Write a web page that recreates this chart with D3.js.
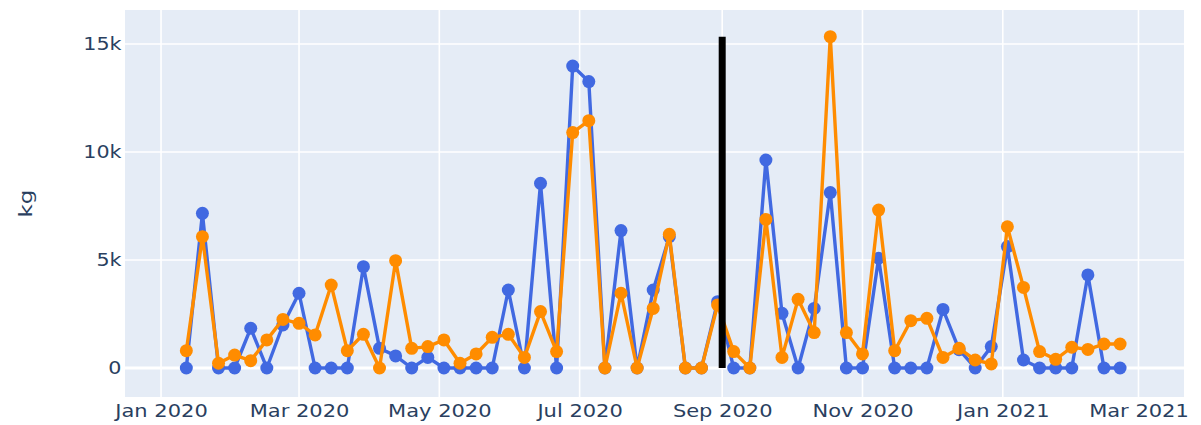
<!DOCTYPE html>
<html>
<head>
<meta charset="utf-8">
<script src="https://cdn.jsdelivr.net/npm/d3@7"></script>
<style>
    body { margin: 0; background: #fff; }
    text { font-family: "DejaVu Sans", Verdana, sans-serif; fill: #2a3f5f; }
</style>
</head>
<body>
<div id="chart"></div>
<script>

// Weekly dates (Sundays)
var weeks = [
    "2020-01-12", "2020-01-19", "2020-01-26", "2020-02-02", "2020-02-09", "2020-02-16", "2020-02-23",
    "2020-03-01", "2020-03-08", "2020-03-15", "2020-03-22", "2020-03-29", "2020-04-05", "2020-04-12",
    "2020-04-19", "2020-04-26", "2020-05-03", "2020-05-10", "2020-05-17", "2020-05-24", "2020-05-31",
    "2020-06-07", "2020-06-14", "2020-06-21", "2020-06-28", "2020-07-05", "2020-07-12", "2020-07-19",
    "2020-07-26", "2020-08-02", "2020-08-09", "2020-08-16", "2020-08-23", "2020-08-30", "2020-09-06",
    "2020-09-13", "2020-09-20", "2020-09-27", "2020-10-04", "2020-10-11", "2020-10-18", "2020-10-25",
    "2020-11-01", "2020-11-08", "2020-11-15", "2020-11-22", "2020-11-29", "2020-12-06", "2020-12-13",
    "2020-12-20", "2020-12-27", "2021-01-03", "2021-01-10", "2021-01-17", "2021-01-24", "2021-01-31",
    "2021-02-07", "2021-02-14", "2021-02-21"
];

// Blue series (kg)
var blueKg = [
    0, 7160, 0, 0, 1840, 0, 1990, 3460, 0, 0, 0, 4690, 910, 560, 0, 490, 0, 0, 0, 0,
    3610, 0, 8550, 0, 13980, 13260, 0, 6360, 0, 3610, 6080, 0, 0, 3070, 0, 0, 9630, 2530, 0, 2760,
    8120, 0, 0, 5080, 0, 0, 0, 2710, 850, 0, 990, 5620, 370, 0, 0, 0, 4310, 0, 0
];

// Orange series (kg)
var orangeKg = [
    800, 6080, 220, 600, 340, 1300, 2250, 2070, 1530, 3840, 800, 1560, 0, 4970, 910, 990, 1300, 220, 650, 1420,
    1560, 490, 2610, 760, 10900, 11450, 0, 3460, 0, 2760, 6190, 0, 0, 2920, 760, 0, 6880, 490, 3180, 1640,
    15340, 1640, 650, 7310, 800, 2190, 2300, 490, 910, 370, 190, 6540, 3730, 760, 400, 960, 860, 1110, 1110
];

// Vertical marker
var markerDate = "2020-09-01";

var yTicks = [0, 5000, 10000, 15000];

var svgWidth = 1201;
var svgHeight = 425;

var margin = { top: 10, bottom: 28, left: 125, right: 17 };
var width = svgWidth - margin.left - margin.right;
var height = svgHeight - margin.top - margin.bottom;

var parseDate = d3.utcParse("%Y-%m-%d");
var dates = weeks.map(parseDate);

var svg = d3.select("#chart")
    .append("svg")
    .attr("width", svgWidth)
    .attr("height", svgHeight);

// Scales
var xTime = d3.scaleUtc()
    .domain([new Date(Date.UTC(2019, 11, 16, 8)), new Date(Date.UTC(2021, 2, 20, 19))])
    .range([margin.left, margin.left + width]);

var yLinear = d3.scaleLinear()
    .domain([-1343, 16574])
    .range([margin.top + height, margin.top]);

// Plot background
svg.append("rect")
    .attr("x", margin.left)
    .attr("y", margin.top)
    .attr("width", width)
    .attr("height", height)
    .attr("fill", "#e5ecf6");

var xTickVals = xTime.ticks(d3.utcMonth.every(2));

// Gridlines
svg.append("g").selectAll("line")
    .data(xTickVals)
    .enter()
    .append("line")
    .attr("x1", d => xTime(d))
    .attr("x2", d => xTime(d))
    .attr("y1", margin.top)
    .attr("y2", margin.top + height)
    .attr("stroke", "#fff")
    .attr("stroke-width", 1.6);

svg.append("g").selectAll("line")
    .data(yTicks)
    .enter()
    .append("line")
    .attr("x1", margin.left)
    .attr("x2", margin.left + width)
    .attr("y1", d => yLinear(d))
    .attr("y2", d => yLinear(d))
    .attr("stroke", "#fff")
    .attr("stroke-width", d => d === 0 ? 3.2 : 1.6);

// Axes (labels only, font is wide in the original so stretch a bit)
var leftAxis = d3.axisLeft(yLinear)
    .tickValues(yTicks)
    .tickFormat(d => d === 0 ? "0" : (d / 1000) + "k")
    .tickSize(0)
    .tickPadding(3);

var yAxis = svg.append("g")
    .attr("transform", `translate(${margin.left}, 0)`)
    .call(leftAxis);

yAxis.select(".domain").remove();
yAxis.selectAll("text")
    .attr("font-size", "17.5px")
    .attr("fill", "#2a3f5f")
    .attr("transform", "scale(1.18, 1)");

var bottomAxis = d3.axisBottom(xTime)
    .tickValues(xTickVals)
    .tickFormat(d3.utcFormat("%b %Y"))
    .tickSize(0)
    .tickPadding(8);

var xAxis = svg.append("g")
    .attr("transform", `translate(0, ${margin.top + height})`)
    .call(bottomAxis);

xAxis.select(".domain").remove();
xAxis.selectAll("text")
    .attr("font-size", "17.5px")
    .attr("fill", "#2a3f5f")
    .attr("transform", "scale(1.2, 1)");

// Axis title
svg.append("text")
    .attr("transform", `translate(27.5, ${margin.top + height / 2}) rotate(-90) scale(1.35, 1)`)
    .attr("text-anchor", "middle")
    .attr("dy", "0.26em")
    .attr("font-size", "17px")
    .text("kg");

// Series: line then markers, orange drawn over blue
function drawSeries(values, color) {
    var pts = values.map((v, i) => ({ date: dates[i], value: v }));

    var line = d3.line()
        .x(d => xTime(d.date))
        .y(d => yLinear(d.value));

    var g = svg.append("g");

    g.append("path")
        .datum(pts)
        .attr("d", line)
        .attr("fill", "none")
        .attr("stroke", color)
        .attr("stroke-width", 3.4)
        .attr("stroke-linejoin", "round");

    g.selectAll("circle")
        .data(pts)
        .enter()
        .append("circle")
        .attr("cx", d => xTime(d.date))
        .attr("cy", d => yLinear(d.value))
        .attr("r", 6.5)
        .attr("fill", color);
}

drawSeries(blueKg, "#4169e1");
drawSeries(orangeKg, "#ff8c00");

// Vertical black line, up to the highest value
svg.append("line")
    .attr("x1", xTime(parseDate(markerDate)))
    .attr("x2", xTime(parseDate(markerDate)))
    .attr("y1", yLinear(0))
    .attr("y2", yLinear(d3.max(orangeKg)))
    .attr("stroke", "#000")
    .attr("stroke-width", 7);

</script>
</body>
</html>
